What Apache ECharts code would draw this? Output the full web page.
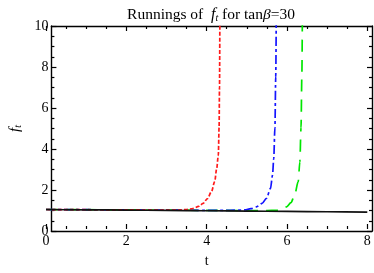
<!DOCTYPE html>
<html>
<head>
<meta charset="utf-8">
<script src="https://cdn.jsdelivr.net/npm/echarts@6/dist/echarts.min.js"></script>
<style>html,body{margin:0;padding:0;background:#fff}#c{width:374px;height:273px}</style>
</head>
<body>
<div id="c"></div>
<script>
// Data
var xTicks = [0, 2, 4, 6, 8];
var yTicks = [0, 2, 4, 6, 8, 10];

var blackT = [0, 1, 2, 3, 4, 5, 6, 7, 8];
var blackY = [0.96, 0.945, 0.93, 0.915, 0.9, 0.885, 0.865, 0.85, 0.835];

var redT = [0, 1, 2, 3, 3.3, 3.5, 3.66, 3.8, 3.91, 4.02, 4.12, 4.2, 4.25, 4.29, 4.31, 4.32, 4.33];
var redY = [0.96, 0.95, 0.94, 0.93, 0.935, 0.96, 1.01, 1.11, 1.26, 1.5, 1.84, 2.33, 2.98, 3.62, 5.0, 7.0, 11];

var blueT = [0, 1, 2, 3, 4, 4.5, 4.95, 5.1, 5.24, 5.38, 5.49, 5.59, 5.64, 5.67, 5.7, 5.72, 5.735];
var blueY = [0.96, 0.95, 0.94, 0.93, 0.92, 0.915, 0.94, 1.0, 1.09, 1.26, 1.51, 2.0, 2.65, 3.46, 5.0, 7.5, 11];

var greenT = [0, 1, 2, 3, 4, 5, 5.5, 5.74, 5.88, 5.99, 6.1, 6.19, 6.28, 6.32, 6.35, 6.37, 6.385];
var greenY = [0.96, 0.95, 0.94, 0.93, 0.92, 0.91, 0.91, 0.92, 0.99, 1.09, 1.3, 1.67, 2.33, 3.3, 5.0, 7.5, 11];

function pairs(t, y) { return t.map(function (v, i) { return [v, y[i]]; }); }

var serif = '"Liberation Serif", "DejaVu Serif", serif';
var chart = echarts.init(document.getElementById('c'), null, { renderer: 'canvas' });

function tickCommon() {
  return {
    axisTick: { show: true, inside: true, length: 5, lineStyle: { color: '#000', width: 1.2 } },
    minorTick: { show: true, splitNumber: 4, length: 3, lineStyle: { color: '#000', width: 1.2 } },
    splitLine: { show: false },
    minorSplitLine: { show: false }
  };
}

function xTickAxis(pos, labels) {
  return Object.assign({
    type: 'value', gridIndex: 0, position: pos, min: xTicks[0], max: xTicks[xTicks.length - 1], interval: 2,
    axisLine: { show: false, onZero: false },
    axisLabel: { show: labels, color: '#000', fontFamily: serif, fontSize: 14, margin: 5 },
    name: labels ? 't' : '', nameLocation: 'middle', nameGap: 25,
    nameTextStyle: { color: '#000', fontFamily: serif, fontSize: 14 }
  }, tickCommon());
}
function yTickAxis(pos, labels) {
  return Object.assign({
    type: 'value', gridIndex: 1, position: pos, min: yTicks[0], max: yTicks[yTicks.length - 1], interval: 2,
    axisLine: { show: true, onZero: false, lineStyle: { color: '#000', width: 1.4 } },
    axisLabel: { show: labels, color: '#000', fontFamily: serif, fontSize: 14, margin: 3 },
    name: labels ? '{i|f}{s|t}' : '', nameLocation: 'middle', nameGap: 23, nameRotate: 90,
    nameTextStyle: { color: '#000', fontFamily: serif, fontSize: 14,
      rich: { i: { fontStyle: 'italic', fontFamily: serif, fontSize: 15, color: '#000' },
              s: { fontStyle: 'italic', fontFamily: serif, fontSize: 10, color: '#000', verticalAlign: 'bottom', padding: [6, 0, 0, 0] } } }
  }, tickCommon());
}

function lineSeries(t, y, color, dash, z) {
  return {
    type: 'line', xAxisIndex: 0, yAxisIndex: 0, data: pairs(t, y), showSymbol: false, symbol: 'none',
    smooth: 0.3, smoothMonotone: 'x', clip: true, z: z,
    lineStyle: { color: color, width: 1.7, type: dash }
  };
}

chart.setOption({
  animation: false,
  backgroundColor: '#fff',
  title: {
    text: 'Runnings of  {i|f}{s|t} for tan{g|β}=30',
    left: 206, top: 1, textAlign: 'center',
    textStyle: {
      color: '#000', fontFamily: serif, fontSize: 15.5, fontWeight: 'normal',
      rich: {
        i: { fontStyle: 'italic', fontFamily: serif, fontSize: 16, color: '#000' },
        s: { fontStyle: 'italic', fontFamily: serif, fontSize: 10, color: '#000', verticalAlign: 'bottom', padding: [7, 0, 0, 0] },
        g: { fontStyle: 'italic', fontFamily: serif, fontSize: 15.5, color: '#000' }
      }
    }
  },
  grid: [
    { left: 46, right: 6.7, top: 26, bottom: 42 },
    { left: 40, right: 2, top: 26, bottom: 42 }
  ],
  xAxis: [
    xTickAxis('bottom', true),
    xTickAxis('top', false),
    { type: 'value', gridIndex: 1, position: 'bottom', min: 0, max: 1,
      axisLine: { show: true, onZero: false, lineStyle: { color: '#000', width: 1.4 } },
      axisTick: { show: false }, axisLabel: { show: false }, splitLine: { show: false } },
    { type: 'value', gridIndex: 1, position: 'top', min: 0, max: 1,
      axisLine: { show: true, onZero: false, lineStyle: { color: '#000', width: 1.4 } },
      axisTick: { show: false }, axisLabel: { show: false }, splitLine: { show: false } }
  ],
  yAxis: [
    { type: 'value', gridIndex: 0, min: 0, max: 10, show: false },
    yTickAxis('left', true),
    yTickAxis('right', false)
  ],
  series: [
    lineSeries(greenT, greenY, '#00e600', [12, 8], 2),
    lineSeries(blueT, blueY, '#1414ff', [9, 3, 3, 3], 3),
    lineSeries(redT, redY, '#ff1a1a', [4, 2], 4),
    lineSeries(blackT, blackY, '#111', 'solid', 5)
  ]
});
</script>
</body>
</html>
